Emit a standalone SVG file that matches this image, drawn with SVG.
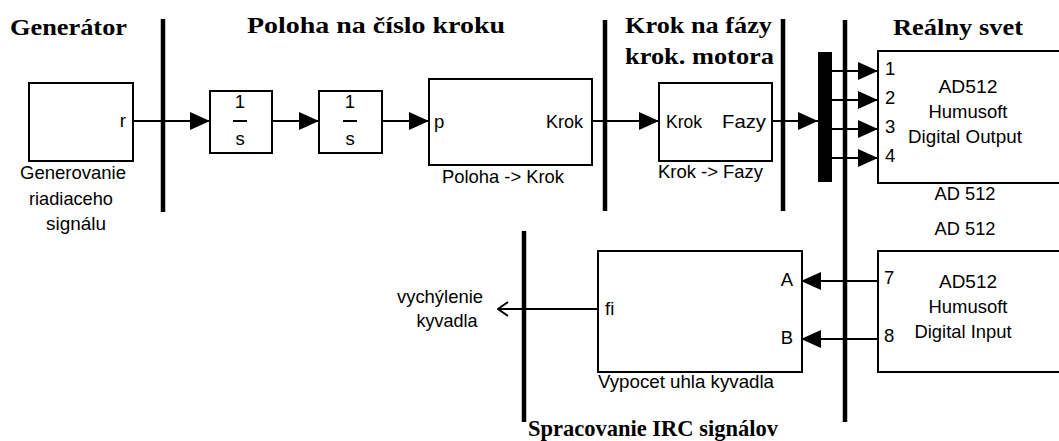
<svg xmlns="http://www.w3.org/2000/svg" width="1059" height="441" viewBox="0 0 1059 441">
<style>
.blk{fill:#fff;stroke:#000;stroke-width:2}
.sig{fill:none;stroke:#000;stroke-width:2}
.sep{stroke:#000;stroke-width:4.5}
.t{font-family:"Liberation Sans",Arial,sans-serif;font-size:18.5px;fill:#000}
.m{text-anchor:middle}
.e{text-anchor:end}
.h{font-family:"Liberation Serif","Times New Roman",serif;font-weight:bold;font-size:24px;fill:#000}
</style>
<defs>
<marker id="ar" markerUnits="userSpaceOnUse" markerWidth="20" markerHeight="20" refX="20" refY="10" orient="auto">
<path d="M0,1 L20,10 L0,19 Z" fill="#000"/>
</marker>
<marker id="open" markerUnits="userSpaceOnUse" markerWidth="12" markerHeight="16" refX="11" refY="8" orient="auto">
<path d="M1,1 L11,8 L1,15" fill="none" stroke="#000" stroke-width="2"/>
</marker>
</defs>

<g id="titles">
<text class="h" x="10" y="35" textLength="117" lengthAdjust="spacingAndGlyphs">Generátor</text>
<text class="h" x="247" y="33" textLength="258" lengthAdjust="spacingAndGlyphs">Poloha na číslo kroku</text>
<text class="h" x="625" y="33" textLength="147" lengthAdjust="spacingAndGlyphs">Krok na fázy</text>
<text class="h" x="625" y="64" textLength="149" lengthAdjust="spacingAndGlyphs">krok. motora</text>
<text class="h" x="893" y="35" textLength="130" lengthAdjust="spacingAndGlyphs">Reálny svet</text>
<text class="h" x="528" y="436" textLength="250" lengthAdjust="spacingAndGlyphs">Spracovanie IRC signálov</text>
</g>

<g id="separators">
<line class="sep" x1="163" y1="19" x2="163" y2="212"/>
<line class="sep" x1="605" y1="20" x2="605" y2="211"/>
<line class="sep" x1="783" y1="19" x2="783" y2="211"/>
<line class="sep" x1="845" y1="20" x2="845" y2="422"/>
<line class="sep" x1="524" y1="231" x2="524" y2="422"/>
</g>

<g id="connectors">
<line class="sig" x1="130" y1="121" x2="210" y2="121" marker-end="url(#ar)"/>
<line class="sig" x1="272" y1="121" x2="319" y2="121" marker-end="url(#ar)"/>
<line class="sig" x1="382" y1="121" x2="429" y2="121" marker-end="url(#ar)"/>
<line class="sig" x1="592" y1="121" x2="659" y2="121" marker-end="url(#ar)"/>
<line class="sig" x1="772" y1="121" x2="818" y2="121" marker-end="url(#ar)"/>
<line class="sig" x1="832" y1="71" x2="878" y2="71" marker-end="url(#ar)"/>
<line class="sig" x1="832" y1="100" x2="878" y2="100" marker-end="url(#ar)"/>
<line class="sig" x1="832" y1="129" x2="878" y2="129" marker-end="url(#ar)"/>
<line class="sig" x1="832" y1="158" x2="878" y2="158" marker-end="url(#ar)"/>
<line class="sig" x1="878" y1="281" x2="801" y2="281" marker-end="url(#ar)"/>
<line class="sig" x1="878" y1="339" x2="801" y2="339" marker-end="url(#ar)"/>
<line class="sig" x1="598" y1="309" x2="498" y2="309" marker-end="url(#open)"/>
</g>

<g id="generator">
<rect class="blk" x="29" y="83" width="104" height="78"/>
<text class="t e" x="126" y="127">r</text>
<text class="t m" x="73" y="179" textLength="106" lengthAdjust="spacingAndGlyphs">Generovanie</text>
<text class="t m" x="71" y="205" textLength="84" lengthAdjust="spacingAndGlyphs">riadiaceho</text>
<text class="t m" x="76" y="230" textLength="60" lengthAdjust="spacingAndGlyphs">signálu</text>
</g>

<g id="integrator1">
<rect class="blk" x="210" y="91" width="62" height="62"/>
<text class="t m" x="240" y="108">1</text>
<line x1="233" y1="121" x2="247" y2="121" stroke="#000" stroke-width="2"/>
<text class="t m" x="240" y="145">s</text>
</g>

<g id="integrator2">
<rect class="blk" x="319" y="91" width="63" height="62"/>
<text class="t m" x="350" y="108">1</text>
<line x1="343" y1="121" x2="357" y2="121" stroke="#000" stroke-width="2"/>
<text class="t m" x="350" y="145">s</text>
</g>

<g id="poloha-krok">
<rect class="blk" x="429" y="79" width="163" height="86"/>
<text class="t" x="434" y="128">p</text>
<text class="t" x="546" y="128" textLength="37" lengthAdjust="spacingAndGlyphs">Krok</text>
<text class="t" x="442" y="183" textLength="122" lengthAdjust="spacingAndGlyphs">Poloha -&gt; Krok</text>
</g>

<g id="krok-fazy">
<rect class="blk" x="659" y="83" width="113" height="78"/>
<text class="t" x="666" y="128" textLength="36" lengthAdjust="spacingAndGlyphs">Krok</text>
<text class="t" x="722" y="128" textLength="44" lengthAdjust="spacingAndGlyphs">Fazy</text>
<text class="t" x="658" y="178" textLength="105" lengthAdjust="spacingAndGlyphs">Krok -&gt; Fazy</text>
</g>

<g id="demux">
<rect x="818" y="52" width="14" height="130" fill="#000"/>
</g>

<g id="digital-output">
<rect class="blk" x="878" y="51" width="190" height="132"/>
<text class="t" x="885" y="75">1</text>
<text class="t" x="885" y="104">2</text>
<text class="t" x="885" y="133">3</text>
<text class="t" x="885" y="162">4</text>
<text class="t m" x="968" y="93" textLength="59" lengthAdjust="spacingAndGlyphs">AD512</text>
<text class="t m" x="968" y="118" textLength="79" lengthAdjust="spacingAndGlyphs">Humusoft</text>
<text class="t m" x="965" y="143" textLength="114" lengthAdjust="spacingAndGlyphs">Digital Output</text>
<text class="t m" x="965" y="200" textLength="61" lengthAdjust="spacingAndGlyphs">AD 512</text>
</g>

<g id="digital-input">
<rect class="blk" x="878" y="251" width="190" height="121"/>
<text class="t m" x="965" y="235" textLength="61" lengthAdjust="spacingAndGlyphs">AD 512</text>
<text class="t" x="884" y="284">7</text>
<text class="t" x="884" y="342">8</text>
<text class="t m" x="968" y="288" textLength="58" lengthAdjust="spacingAndGlyphs">AD512</text>
<text class="t m" x="968" y="313" textLength="79" lengthAdjust="spacingAndGlyphs">Humusoft</text>
<text class="t m" x="963" y="338" textLength="97" lengthAdjust="spacingAndGlyphs">Digital Input</text>
</g>

<g id="vypocet">
<rect class="blk" x="598" y="251" width="204" height="121"/>
<text class="t" x="605" y="315">fi</text>
<text class="t e" x="793" y="286">A</text>
<text class="t e" x="793" y="344">B</text>
<text class="t" x="598" y="388" textLength="176" lengthAdjust="spacingAndGlyphs">Vypocet uhla kyvadla</text>
</g>

<g id="output-label">
<text class="t m" x="440" y="303" textLength="86" lengthAdjust="spacingAndGlyphs">vychýlenie</text>
<text class="t m" x="447" y="327" textLength="61" lengthAdjust="spacingAndGlyphs">kyvadla</text>
</g>
</svg>
